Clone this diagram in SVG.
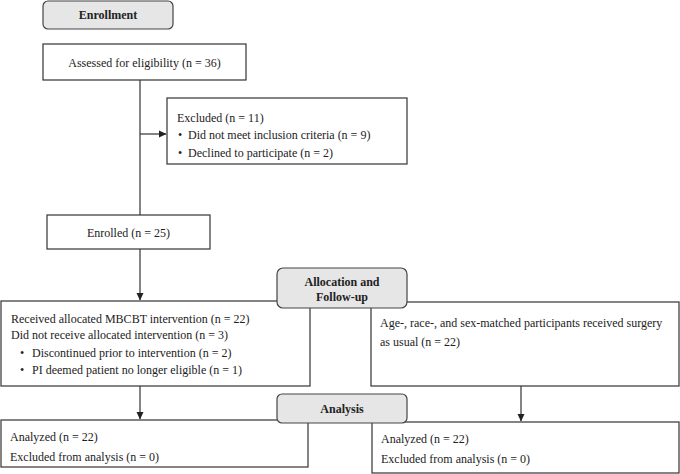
<svg xmlns="http://www.w3.org/2000/svg" width="680" height="474" viewBox="0 0 680 474">
<defs>
<marker id="arr" markerWidth="8" markerHeight="8" refX="7" refY="4" orient="auto" markerUnits="userSpaceOnUse">
<path d="M0,0.5 L7.5,4 L0,7.5 Z" fill="#222"/>
</marker>
<style>
.box{fill:#fff;stroke:#333;stroke-width:1.2}
.hdr{fill:#e6e6e6;stroke:#444;stroke-width:1.2}
.t{font-family:"Liberation Serif","Times New Roman",serif;font-size:12px;fill:#222}
.b{font-family:"Liberation Serif","Times New Roman",serif;font-size:12px;font-weight:bold;fill:#222}
.ln{stroke:#333;stroke-width:1.2;fill:none}
</style>
</defs>
<rect width="680" height="474" fill="#fff"/>
<g id="connectors">
<line class="ln" x1="140" y1="80" x2="140" y2="215"/>
<line class="ln" x1="140" y1="134" x2="166" y2="134" marker-end="url(#arr)"/>
<line class="ln" x1="140" y1="249" x2="140" y2="300" marker-end="url(#arr)"/>
<line class="ln" x1="140" y1="386" x2="140" y2="419" marker-end="url(#arr)"/>
<line class="ln" x1="521" y1="386" x2="521" y2="421" marker-end="url(#arr)"/>
</g>
<g id="enrollment">
<rect class="hdr" x="43" y="1" width="130" height="28" rx="5"/>
<text class="b" x="108" y="19" text-anchor="middle">Enrollment</text>
</g>
<g id="assessed">
<rect class="box" x="43" y="44" width="203" height="36"/>
<text class="t" x="144.5" y="67" text-anchor="middle">Assessed for eligibility (n = 36)</text>
</g>
<g id="excluded">
<rect class="box" x="167" y="98" width="240" height="66"/>
<text class="t" x="177" y="122">Excluded (n = 11)</text>
<text class="t" x="178" y="139">•</text>
<text class="t" x="188" y="139">Did not meet inclusion criteria (n = 9)</text>
<text class="t" x="178" y="157">•</text>
<text class="t" x="188" y="157">Declined to participate (n = 2)</text>
</g>
<g id="enrolled">
<rect class="box" x="47" y="215" width="163" height="34"/>
<text class="t" x="128.5" y="237" text-anchor="middle">Enrolled (n = 25)</text>
</g>
<g id="mbcbt">
<rect class="box" x="1" y="301" width="309" height="85"/>
<text class="t" x="11" y="323">Received allocated MBCBT intervention (n = 22)</text>
<text class="t" x="11" y="339">Did not receive allocated intervention (n = 3)</text>
<text class="t" x="20" y="357">•</text>
<text class="t" x="32" y="357">Discontinued prior to intervention (n = 2)</text>
<text class="t" x="20" y="374">•</text>
<text class="t" x="32" y="374">PI deemed patient no longer eligible (n = 1)</text>
</g>
<g id="control">
<rect class="box" x="371" y="302" width="308" height="84"/>
<text class="t" x="380" y="327">Age-, race-, and sex-matched participants received surgery</text>
<text class="t" x="380" y="346">as usual (n = 22)</text>
</g>
<g id="allocation">
<rect class="hdr" x="277" y="268" width="130" height="40" rx="6"/>
<text class="b" x="342" y="286" text-anchor="middle">Allocation and</text>
<text class="b" x="342" y="301" text-anchor="middle">Follow-up</text>
</g>
<g id="analyzed-left">
<rect class="box" x="1" y="420" width="307" height="47"/>
<text class="t" x="10" y="441">Analyzed (n = 22)</text>
<text class="t" x="10" y="461">Excluded from analysis (n = 0)</text>
</g>
<g id="analyzed-right">
<rect class="box" x="372" y="422" width="307" height="51"/>
<text class="t" x="381" y="443">Analyzed (n = 22)</text>
<text class="t" x="381" y="463">Excluded from analysis (n = 0)</text>
</g>
<g id="analysis">
<rect class="hdr" x="277" y="394" width="130" height="29" rx="5"/>
<text class="b" x="342" y="413" text-anchor="middle">Analysis</text>
</g>
</svg>
